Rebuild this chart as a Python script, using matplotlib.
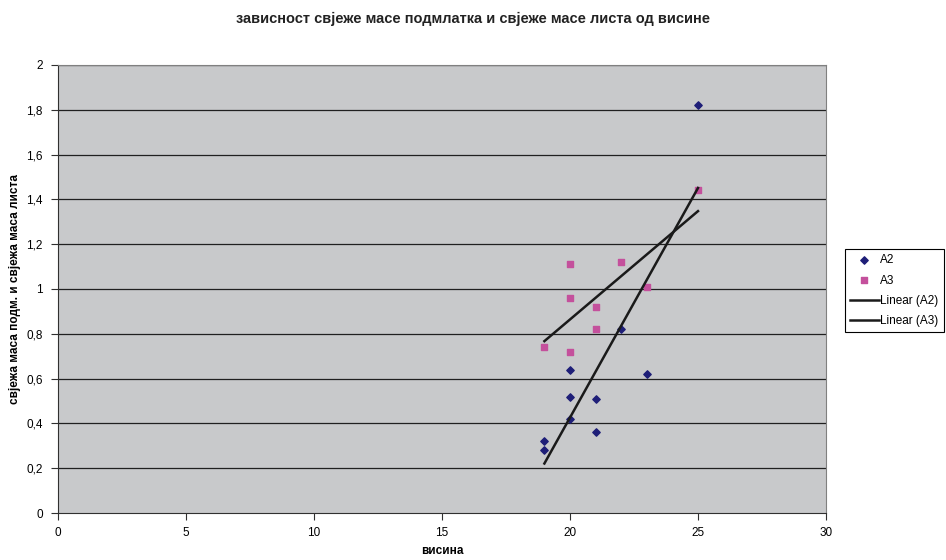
import matplotlib
matplotlib.use("Agg")
import matplotlib.pyplot as plt
import numpy as np

plt.rcParams['font.family'] = ['Liberation Sans', 'DejaVu Sans']

a2_x = [25, 20, 20, 20, 19, 19, 21, 21, 22, 23]
a2_y = [1.82, 0.64, 0.52, 0.42, 0.32, 0.28, 0.51, 0.36, 0.82, 0.62]
a3_x = [25, 20, 20, 20, 19, 21, 21, 22, 23]
a3_y = [1.44, 1.11, 0.96, 0.72, 0.74, 0.92, 0.82, 1.12, 1.01]

x_ticks = [0, 5, 10, 15, 20, 25, 30]
y_ticks = [0, 0.2, 0.4, 0.6, 0.8, 1.0, 1.2, 1.4, 1.6, 1.8, 2.0]
y_labels = ['0', '0,2', '0,4', '0,6', '0,8', '1', '1,2', '1,4', '1,6', '1,8', '2']

fig = plt.figure(figsize=(9.46, 5.6), dpi=100)
ax = fig.add_axes([58/946, 1-513/560, (826-58)/946, (513-65)/560])
ax.set_facecolor('#C8C9CB')

for yv in y_ticks[1:]:
    ax.axhline(yv, color='#202020', lw=0.9, zorder=1)

ax.scatter(a2_x, a2_y, marker='D', s=14, color='#1E1E78', zorder=3, label='A2')
ax.scatter(a3_x, a3_y, marker='s', s=24, color='#C4509C', zorder=3, label='A3')

for xs, ys, lab in [(a2_x, a2_y, 'Linear (A2)'), (a3_x, a3_y, 'Linear (A3)')]:
    k, b = np.polyfit(xs, ys, 1)
    xx = np.array([min(xs), max(xs)])
    ax.plot(xx, k*xx + b, color='#1a1a1a', lw=1.8, zorder=4, label=lab)

ax.set_xlim(0, 30)
ax.set_ylim(0, 2)
ax.set_xticks(x_ticks)
ax.set_xticklabels([str(v) for v in x_ticks])
ax.set_yticks(y_ticks)
ax.set_yticklabels(y_labels)
ax.tick_params(labelsize=8.5, length=5, width=0.8, color='#303030', direction='out')
ax.tick_params(axis='x', pad=5)
ax.tick_params(axis='y', pad=6)
for s in ['top', 'right']:
    ax.spines[s].set_color('#808080')
    ax.spines[s].set_linewidth(0.8)
for s in ['left', 'bottom']:
    ax.spines[s].set_color('#303030')
    ax.spines[s].set_linewidth(0.8)

fig.text(ax.get_position().x0 + ax.get_position().width/2, 1-551/560, 'висина',
         ha='center', va='center', fontsize=8.5, fontweight='bold')
fig.text(15/946, ax.get_position().y0 + ax.get_position().height/2,
         'свјежа маса подм. и свјежа маса листа', rotation=90,
         ha='center', va='center', fontsize=8.5, fontweight='bold')
fig.text(0.5, 1-19/560, 'зависност свјеже масе подмлатка и свјеже масе листа од висине',
         ha='center', va='center', fontsize=10.5, fontweight='bold', color='#222222')

leg = fig.legend(loc='upper left', bbox_to_anchor=(845/946, 1-249/560), fontsize=8.5,
                 frameon=True, fancybox=False, edgecolor='black', framealpha=1,
                 handlelength=2.4, handletextpad=0.15, borderpad=0.45, labelspacing=0.7,
                 borderaxespad=0)
leg.get_frame().set_linewidth(0.8)

fig.savefig('out.png', dpi=100)
